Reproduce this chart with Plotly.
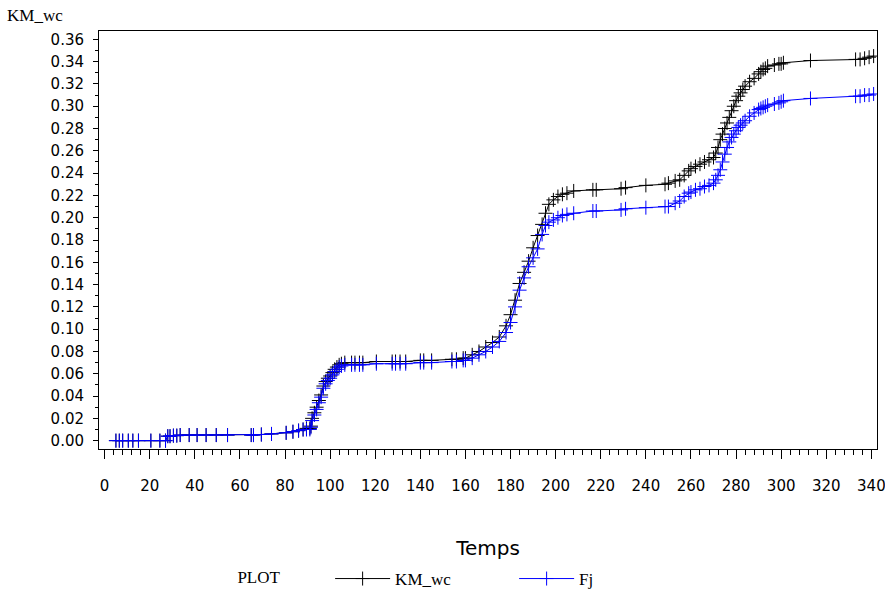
import plotly.graph_objects as go

# Time points (Temps)
temps = [5, 6.5, 8, 10.5, 12.5, 15, 20.5, 24.5, 27, 28, 29, 30.5, 32, 33.5, 37.5, 41, 45, 49.5, 54.5,
         65, 66, 69.5, 74, 80.5, 83.5, 86, 88, 89.5, 91,
         91.5, 92, 93, 94, 95, 96, 97, 98, 99, 100, 101, 102, 103, 104, 105,
         106.5, 109.5, 111, 113, 114.5, 120.5, 127.5, 129, 131, 133.5, 140, 141.5, 145, 154, 156, 159,
         160, 163, 166, 169, 172, 175, 178, 180, 182, 184, 186, 188, 190, 192, 194, 195.5, 197, 199,
         201, 203, 205, 208,
         216.5, 218, 229, 231, 240, 248.5, 250, 253,
         255, 257, 259, 260, 262, 264, 266, 268, 270, 271, 272, 273, 274, 275, 276, 277, 278, 279,
         280, 281, 282, 283, 284, 286, 288, 290, 291, 292, 293, 294, 297, 299, 300, 301, 313,
         333, 335, 337, 339, 341]

km_wc = [0, 0, 0, 0, 0, 0, 0, 0, 0, 0.004, 0.004, 0.0045, 0.0045, 0.005, 0.005, 0.005, 0.005, 0.005, 0.005,
         0.005, 0.005, 0.0055, 0.006, 0.007, 0.008, 0.009, 0.010, 0.011, 0.011,
         0.013, 0.020, 0.025, 0.030, 0.036, 0.041, 0.049, 0.053, 0.056, 0.058, 0.061, 0.064, 0.066, 0.068, 0.069,
         0.070, 0.070, 0.070, 0.070, 0.070, 0.071, 0.071, 0.071, 0.071, 0.071, 0.072, 0.072, 0.072, 0.073, 0.073, 0.074,
         0.074, 0.077, 0.080, 0.084, 0.088, 0.093, 0.103, 0.113, 0.126, 0.141, 0.151, 0.161, 0.173, 0.184, 0.194, 0.204, 0.212, 0.216,
         0.219, 0.221, 0.222, 0.224,
         0.225, 0.225, 0.226, 0.227, 0.229, 0.230, 0.231, 0.233,
         0.234, 0.238, 0.242, 0.244, 0.246, 0.248, 0.250, 0.252, 0.254, 0.258, 0.263, 0.270, 0.275, 0.280, 0.285, 0.290, 0.296, 0.300,
         0.305, 0.309, 0.312, 0.315, 0.318, 0.322, 0.325, 0.329, 0.331, 0.333, 0.334, 0.336, 0.337, 0.338, 0.338, 0.339, 0.341,
         0.342, 0.342, 0.343, 0.344, 0.345]

fj = [0, 0, 0, 0, 0, 0, 0, 0, 0, 0.004, 0.004, 0.0045, 0.0045, 0.005, 0.005, 0.005, 0.005, 0.005, 0.005,
      0.005, 0.005, 0.0055, 0.006, 0.007, 0.008, 0.009, 0.010, 0.010, 0.010,
      0.012, 0.018, 0.023, 0.028, 0.034, 0.039, 0.047, 0.051, 0.054, 0.056, 0.059, 0.062, 0.064, 0.066, 0.067,
      0.068, 0.068, 0.068, 0.068, 0.068, 0.069, 0.069, 0.069, 0.069, 0.069, 0.070, 0.070, 0.070, 0.071, 0.071, 0.072,
      0.072, 0.074, 0.077, 0.080, 0.084, 0.089, 0.097, 0.106, 0.120, 0.135, 0.146, 0.156, 0.164, 0.172, 0.185, 0.193, 0.196, 0.198,
      0.200, 0.202, 0.203, 0.204,
      0.206, 0.206, 0.207, 0.208, 0.209, 0.210, 0.210, 0.213,
      0.215, 0.219, 0.222, 0.223, 0.225, 0.226, 0.228, 0.229, 0.231, 0.234, 0.238, 0.243, 0.250, 0.257, 0.263, 0.268, 0.272, 0.275,
      0.278, 0.281, 0.283, 0.285, 0.287, 0.291, 0.294, 0.297, 0.298, 0.299, 0.300, 0.301, 0.302, 0.303, 0.304, 0.305, 0.307,
      0.309, 0.309, 0.310, 0.310, 0.311]

x_ticks = list(range(0, 341, 20))
y_ticks = [i / 100 for i in range(0, 37, 2)]
y_ticklabels = ["%.2f" % v for v in y_ticks]

SERIF = "Liberation Serif"
SANS = "DejaVu Sans"

fig = go.Figure()
fig.add_trace(go.Scatter(
    x=temps, y=km_wc, name="KM_wc", mode="lines+markers",
    line=dict(color="black", width=1),
    marker=dict(symbol="cross-thin", size=10, color="black", line=dict(color="black", width=1)),
))
fig.add_trace(go.Scatter(
    x=temps, y=fj, name="Fj", mode="lines+markers",
    line=dict(color="#0000ff", width=1),
    marker=dict(symbol="cross-thin", size=10, color="#0000ff", line=dict(color="#0000ff", width=1)),
))

fig.update_layout(
    width=885, height=590,
    margin=dict(l=99, r=8, t=31, b=141),
    paper_bgcolor="white", plot_bgcolor="white",
    showlegend=True,
    legend=dict(
        orientation="h", xref="container", yref="container",
        x=0.266, xanchor="left", y=1 - 579 / 590, yanchor="middle",
        title=dict(text="PLOT          ", font=dict(family=SERIF, size=17, color="black")),
        font=dict(family=SERIF, size=17, color="black"),
        itemwidth=55, entrywidthmode="pixels", entrywidth=114,
    ),
    annotations=[dict(
        text="KM_wc", xref="paper", yref="paper", x=-0.121, y=1.01,
        xanchor="left", yanchor="bottom", showarrow=False,
        font=dict(family=SERIF, size=17, color="black"),
    )],
)

fig.update_xaxes(
    range=[-2.5, 342.5], tickmode="array", tickvals=x_ticks,
    ticks="outside", ticklen=9, tickwidth=1, tickcolor="black",
    minor=dict(dtick=4, ticks="outside", ticklen=5, tickcolor="black", tickwidth=1),
    showgrid=False, zeroline=False, automargin=False,
    showline=True, linecolor="black", linewidth=1, mirror=True,
    tickfont=dict(family=SANS, size=15, color="black"),
    ticklabelstandoff=14, ticklabeloverflow="allow",
    title=dict(text="Temps", font=dict(family=SANS, size=20, color="black"), standoff=46),
)
fig.update_yaxes(
    range=[-0.0075, 0.3675], tickmode="array", tickvals=y_ticks, ticktext=y_ticklabels,
    ticks="outside", ticklen=5, tickwidth=1, tickcolor="black",
    minor=dict(dtick=0.01, ticks="outside", ticklen=3, tickcolor="black", tickwidth=1),
    showgrid=False, zeroline=False, automargin=False,
    showline=True, linecolor="black", linewidth=1, mirror=True,
    tickfont=dict(family=SANS, size=15, color="black"),
    ticklabelstandoff=6,
)

fig.write_html("out.html")
